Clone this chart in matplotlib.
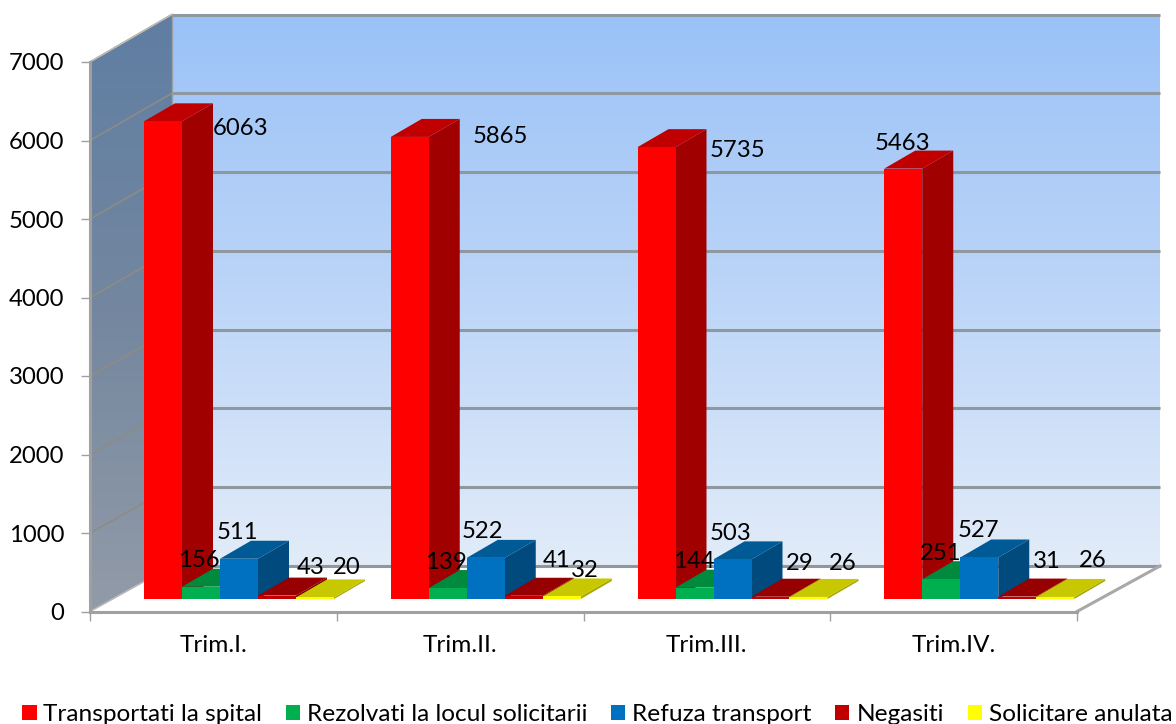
import numpy as np
import matplotlib
matplotlib.use("Agg")
import matplotlib.pyplot as plt
from matplotlib.colors import LinearSegmentedColormap
from matplotlib.patches import Polygon, Patch
from matplotlib.ticker import FixedLocator, NullFormatter, FixedFormatter

plt.rcParams['font.family'] = ['Lato', 'DejaVu Sans']

categories = ["Trim.I.", "Trim.II.", "Trim.III.", "Trim.IV."]
series_names = ["Transportati la spital", "Rezolvati la locul solicitarii",
                "Refuza transport", "Negasiti", "Solicitare anulata"]
transportati = [6063, 5865, 5735, 5463]
rezolvati = [156, 139, 144, 251]
refuza = [511, 522, 503, 527]
negasiti = [43, 41, 29, 31]
anulata = [20, 32, 26, 26]
yticks = [0, 1000, 2000, 3000, 4000, 5000, 6000, 7000]

series = [transportati, rezolvati, refuza, negasiti, anulata]
front = ["#FF0000", "#00B050", "#0070C0", "#C00000", "#FFFF00"]
top = ["#C00000", "#008A3E", "#005A96", "#960000", "#C8C800"]
side = ["#A00000", "#007534", "#004A7E", "#800000", "#A8A800"]

# label offsets in pixels from the centre of each bar's front top edge
label_offsets = [
    [(78, -7), (91, 0), (81, -3), (-1, 25)],
    [(-2, 26), (-2, 26), (-1, 26), (-1, 26)],
    [(-2, 26), (-3, 26), (-2, 26), (-1, 27)],
    [(34, 28), (33, 35), (29, 33), (30, 35)],
    [(32, 30), (23, 26), (34, 33), (37, 36)],
]

W, H = 1176, 724
fig = plt.figure(figsize=(W / 100, H / 100), dpi=100, facecolor="white")
L, R, B, T = 90, 1077, 611.5, 62
ax = fig.add_axes([L / W, (H - B) / H, (R - L) / W, (B - T) / H])
ax.patch.set_alpha(0)

PX_X = (R - L) / 4          # pixels per category
PX_Y = (B - T) / 7000       # pixels per unit
px_x = lambda p: p / PX_X
px_y = lambda p: p / PX_Y
DEPTH_SCALE = 552 / 550     # the back of the box is drawn slightly larger

# back-wall geometry
wx0, wx1 = px_x(82), px_x(1160 - L)
wall_y = lambda v: px_y(45.5) + v * DEPTH_SCALE
w0, w7 = wall_y(0), wall_y(7000)

# back wall
cm_back = LinearSegmentedColormap.from_list("b", ["#9AC2F7", "#BCD5F8", "#E2ECF9"])
ax.imshow(np.linspace(0, 1, 256)[:, None], cmap=cm_back, aspect="auto",
          extent=(wx0, wx1, w0, w7), origin="upper", zorder=1, clip_on=False)
# left wall
cm_left = LinearSegmentedColormap.from_list("l", ["#5F7EA3", "#74879F", "#929BA8"])
im = ax.imshow(np.linspace(0, 1, 256)[:, None], cmap=cm_left, aspect="auto",
               extent=(0, wx0, 0, w7), origin="upper", zorder=1)
clip = Polygon([(0, 0), (wx0, w0), (wx0, w7), (0, 7000)], transform=ax.transData,
               fc="none", ec="none", clip_on=False)
ax.add_patch(clip)
im.set_clip_path(clip)
im.set_clip_box(fig.bbox)
# floor
ax.add_patch(Polygon([(0, 0), (wx0, w0), (wx1, w0), (4, 0)], fc="white", ec="none", zorder=1.5, clip_on=False))
# grid
for v in yticks:
    yb = wall_y(v)
    ax.plot([wx0, wx1], [yb, yb], color="#8F979F", lw=2.2, zorder=2, solid_capstyle="butt", clip_on=False)
    if v:
        ax.plot([0, wx0], [v, yb], color="#8C8C84", lw=1.2, zorder=2, clip_on=False)
ax.plot([0, wx0], [0, w0], color="#B8B8B8", lw=1.2, zorder=2)
ax.plot([4, wx1], [0, w0], color="#A8A8A8", lw=2.2, zorder=2, clip_on=False)
ax.plot([wx0, wx0], [w0, w7], color="#9A9FA6", lw=1, zorder=2, clip_on=False)
ax.plot([0, wx0], [7000, w7], color="#BDBDBD", lw=1, zorder=2, clip_on=False)

# bars
bw = px_x(38)
base = px_y(12.5)
dx, dy = px_x(31), px_y(18)
x0 = px_x(54)
z = 3
for k, vals in enumerate(series):
    for g, v in enumerate(vals):
        xl = g + x0 + k * bw
        xr = xl + bw
        h = v * DEPTH_SCALE
        yt = base + h
        ax.add_patch(Polygon([(xr, base), (xr + dx, base + dy), (xr + dx, yt + dy), (xr, yt)],
                             fc=side[k], ec="none", zorder=z, clip_on=False))
        ax.add_patch(Polygon([(xl, yt), (xl + dx, yt + dy), (xr + dx, yt + dy), (xr, yt)],
                             fc=top[k], ec="none", zorder=z, clip_on=False))
        ax.bar(xl, h, width=bw, bottom=base, align="edge", color=front[k], zorder=z + 0.1, clip_on=False)
        ax.annotate(str(v), (xl + bw / 2, yt), xytext=label_offsets[k][g], textcoords="offset pixels",
                    ha="center", va="center", fontsize=17.2, color="black", zorder=10,
                    annotation_clip=False)
    z += 1

ax.set_xlim(0, 4)
ax.set_ylim(0, 7000)
for s in ("top", "right"):
    ax.spines[s].set_visible(False)
for s in ("left", "bottom"):
    ax.spines[s].set_color("#A0A0A0")
    ax.spines[s].set_linewidth(2.2)
    ax.spines[s].set_zorder(9)
ax.set_yticks(yticks)
ax.tick_params(axis="y", length=6.5, width=1, color="#A0A0A0", pad=12, labelsize=17.2)
ax.xaxis.set_major_locator(FixedLocator(range(5)))
ax.xaxis.set_major_formatter(NullFormatter())
ax.xaxis.set_minor_locator(FixedLocator([i + 0.5 for i in range(4)]))
ax.xaxis.set_minor_formatter(FixedFormatter(categories))
ax.tick_params(axis="x", which="major", length=6.5, width=1, color="#A0A0A0")
ax.tick_params(axis="x", which="minor", length=0, pad=17, labelsize=17.6)

handles = [Patch(fc=c, ec="none") for c in front]
fig.legend(handles, series_names, loc="lower left", bbox_to_anchor=(15 / W, -0.012), ncol=5,
           frameon=False, fontsize=17.6, handlelength=0.58, handleheight=0.58,
           handletextpad=0.28, columnspacing=0.97, borderpad=0.3, borderaxespad=0)

fig.savefig("out.png", dpi=100)
